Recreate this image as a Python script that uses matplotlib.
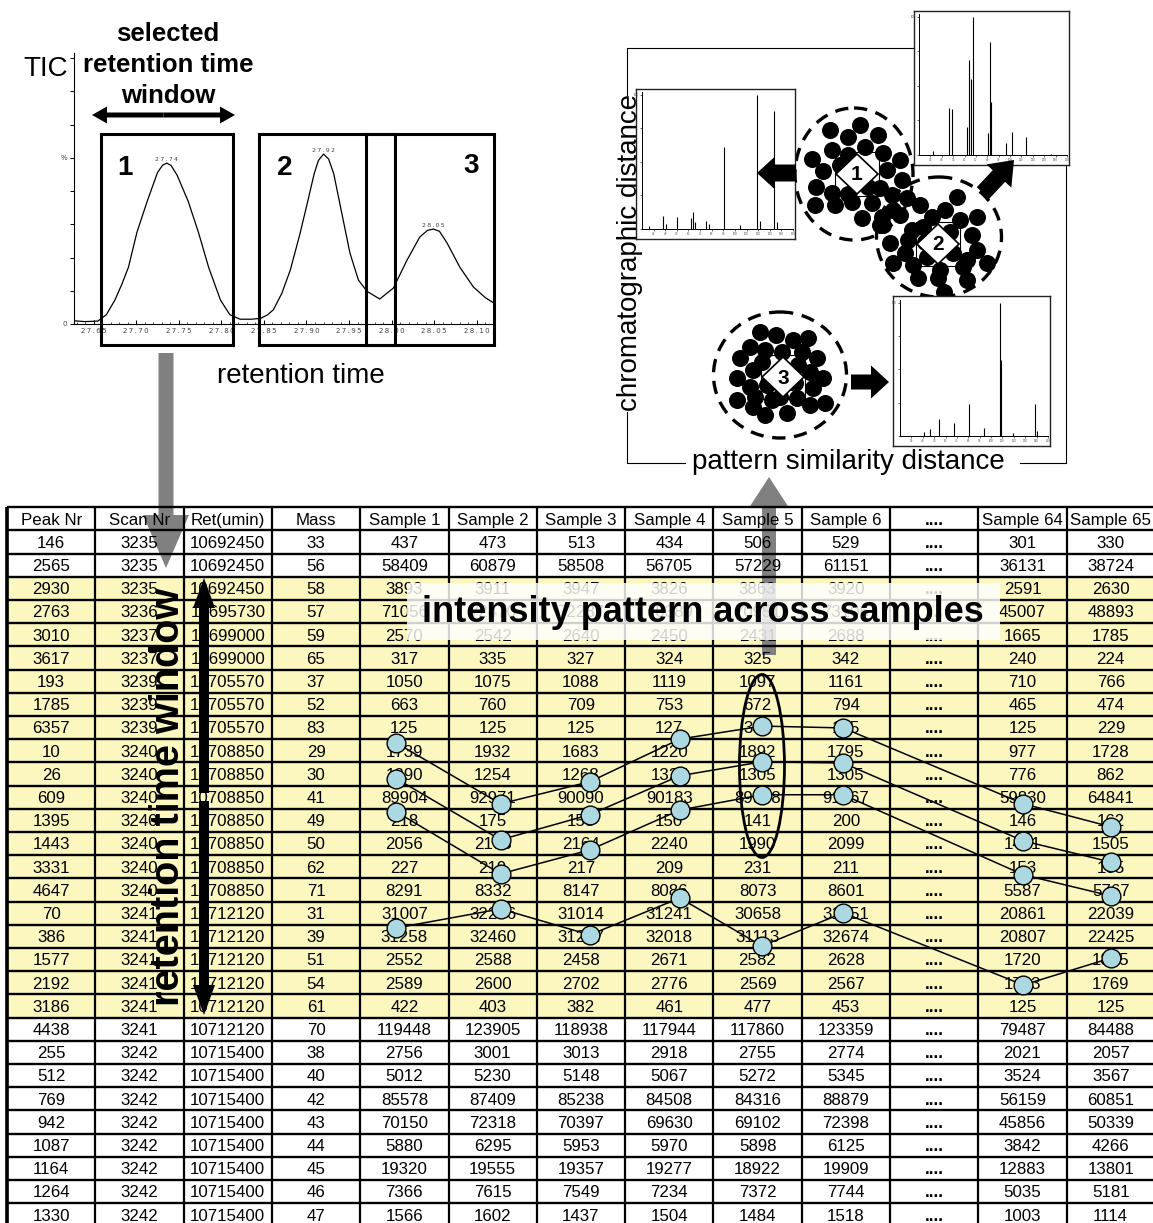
import matplotlib
matplotlib.use("Agg")
import matplotlib.pyplot as plt
from matplotlib.patches import Rectangle, Ellipse, FancyArrow, Polygon
from matplotlib.ticker import MultipleLocator

plt.rcParams['font.family'] = ['Liberation Sans', 'DejaVu Sans']

W, H = 1153, 1223

# ---------------- data ----------------
# chromatogram trace (retention time in min, TIC in % of axis)
rt = [27.627, 27.640, 27.655, 27.665, 27.675, 27.683, 27.691, 27.701, 27.713, 27.725,
      27.731, 27.736, 27.741, 27.748, 27.761, 27.773, 27.785, 27.799, 27.810, 27.822,
      27.835, 27.846, 27.854, 27.861, 27.871, 27.881, 27.892, 27.901, 27.909, 27.914,
      27.920, 27.926, 27.932, 27.939, 27.951, 27.961, 27.971, 27.986, 28.002, 28.018,
      28.033, 28.042, 28.049, 28.056, 28.065, 28.080, 28.096, 28.110, 28.120]
tic = [1.2, 0.9, 1.1, 3.5, 9.0, 14.8, 21.4, 34.6, 46.2, 56.9,
       59.7, 60.5, 59.6, 56.0, 46.2, 34.6, 21.4, 9.0, 3.5, 1.8,
       1.8, 2.1, 3.4, 5.3, 11.5, 20.3, 33.5, 45.5, 56.5, 61.5,
       63.9, 62.0, 56.5, 45.5, 26.7, 16.5, 12.3, 9.4, 13.5, 24.0,
       32.7, 35.2, 35.7, 34.9, 30.5, 21.4, 13.9, 9.9, 7.9]
peak_rt = [27.736, 27.920, 28.049]
peak_h = [60.5, 63.9, 35.7]
peak_lbl = ["27.74", "27.92", "28.05"]
windows = [(27.659, 27.814), (27.844, 28.004), (27.970, 28.120)]
window_names = ["1", "2", "3"]
rt_ticks = [27.65, 27.70, 27.75, 27.80, 27.85, 27.90, 27.95, 28.00, 28.05, 28.10]

# mass spectra of the three clusters
spec_left_mz = [26, 38, 41, 50, 62, 64, 66, 75, 78, 91, 104, 119, 122, 134, 136]
spec_left_int = [2, 10, 4, 9, 8, 13, 5, 6, 4, 61, 3, 100, 6, 88, 5]
spec_top_mz = [32, 46, 49, 62, 64, 66, 67, 81, 82, 83, 96, 102, 114, 136]
spec_top_int = [3, 34, 33, 20, 69, 55, 100, 16, 82, 38, 9, 17, 13, 1]
spec_bot_mz = [41, 46, 54, 67, 81, 94, 108, 109, 119, 139, 140]
spec_bot_int = [3, 5, 13, 10, 24, 6, 100, 57, 2, 24, 4]

# cluster members (pattern similarity vs chromatographic distance, drawing units)
dots1_x = [830, 848, 878, 832, 865, 883, 812, 848, 900, 823, 840, 887, 816, 832, 848,
           868, 880, 902, 835, 852, 872, 862, 892, 893, 882, 880, 860, 815]
dots1_y = [130, 137, 135, 150, 147, 153, 159, 155, 160, 171, 165, 170, 187, 193, 194,
           187, 188, 180, 205, 202, 203, 218, 195, 210, 217, 225, 125, 205]
dots2_x = [907, 920, 957, 945, 900, 932, 960, 977, 912, 923, 908, 972, 890, 977, 905,
           927, 953, 893, 913, 940, 967, 987, 918, 938, 967, 944, 883, 963, 950, 925]
dots2_y = [198, 205, 197, 210, 215, 217, 220, 217, 230, 227, 240, 235, 243, 250, 253,
           257, 253, 263, 265, 270, 260, 263, 278, 278, 280, 292, 225, 267, 232, 242]
dots3_x = [760, 776, 750, 793, 808, 765, 782, 802, 740, 762, 817, 753, 798, 810, 737,
           823, 750, 767, 795, 813, 737, 755, 772, 797, 810, 825, 753, 765, 787, 780]
dots3_y = [332, 335, 347, 340, 338, 350, 352, 352, 358, 362, 358, 370, 365, 372, 378,
           378, 387, 385, 383, 388, 400, 397, 400, 398, 405, 403, 407, 415, 413, 397]
cluster_center = [(854, 174), (939, 237), (780, 375)]
cluster_size = [(118, 132), (125, 120), (133, 126)]
centroid = [(857, 174), (938, 244), (783, 377)]

# table
headers = ["Peak Nr", "Scan Nr", "Ret(umin)", "Mass", "Sample 1", "Sample 2", "Sample 3",
           "Sample 4", "Sample 5", "Sample 6", "....", "Sample 64", "Sample 65"]
peak_nr = [146, 2565, 2930, 2763, 3010, 3617, 193, 1785, 6357, 10, 26, 609, 1395, 1443, 3331,
           4647, 70, 386, 1577, 2192, 3186, 4438, 255, 512, 769, 942, 1087, 1164, 1264, 1330]
scan_nr = [3235, 3235, 3235, 3236, 3237, 3237, 3239, 3239, 3239, 3240, 3240, 3240, 3240, 3240, 3240,
           3240, 3241, 3241, 3241, 3241, 3241, 3241, 3242, 3242, 3242, 3242, 3242, 3242, 3242, 3242]
ret_umin = [10692450, 10692450, 10692450, 10695730, 10699000, 10699000, 10705570, 10705570,
            10705570, 10708850, 10708850, 10708850, 10708850, 10708850, 10708850, 10708850,
            10712120, 10712120, 10712120, 10712120, 10712120, 10712120, 10715400, 10715400,
            10715400, 10715400, 10715400, 10715400, 10715400, 10715400]
mass = [33, 56, 58, 57, 59, 65, 37, 52, 83, 29, 30, 41, 49, 50, 62, 71, 31, 39, 51, 54, 61, 70,
        38, 40, 42, 43, 44, 45, 46, 47]
sample1 = [437, 58409, 3893, 71056, 2570, 317, 1050, 663, 125, 1739, 1290, 89904, 218, 2056, 227,
           8291, 31007, 31258, 2552, 2589, 422, 119448, 2756, 5012, 85578, 70150, 5880, 19320, 7366, 1566]
sample2 = [473, 60879, 3911, 72470, 2542, 335, 1075, 760, 125, 1932, 1254, 92971, 175, 2103, 219,
           8332, 32206, 32460, 2588, 2600, 403, 123905, 3001, 5230, 87409, 72318, 6295, 19555, 7615, 1602]
sample3 = [513, 58508, 3947, 72287, 2640, 327, 1088, 709, 125, 1683, 1268, 90090, 153, 2164, 217,
           8147, 31014, 31207, 2458, 2702, 382, 118938, 3013, 5148, 85238, 70397, 5953, 19357, 7549, 1437]
sample4 = [434, 56705, 3826, 70389, 2450, 324, 1119, 753, 127, 1220, 1327, 90183, 150, 2240, 209,
           8086, 31241, 32018, 2671, 2776, 461, 117944, 2918, 5067, 84508, 69630, 5970, 19277, 7234, 1504]
sample5 = [506, 57229, 3863, 70951, 2431, 325, 1097, 672, 302, 1892, 1305, 89908, 141, 1990, 231,
           8073, 30658, 31113, 2582, 2569, 477, 117860, 2755, 5272, 84316, 69102, 5898, 18922, 7372, 1484]
sample6 = [529, 61151, 3920, 73106, 2688, 342, 1161, 794, 125, 1795, 1305, 91067, 200, 2099, 211,
           8601, 31951, 32674, 2628, 2567, 453, 123359, 2774, 5345, 88879, 72398, 6125, 19909, 7744, 1518]
sample64 = [301, 36131, 2591, 45007, 1665, 240, 710, 465, 125, 977, 776, 59830, 146, 1441, 153,
            5587, 20861, 20807, 1720, 1703, 125, 79487, 2021, 3524, 56159, 45856, 3842, 12883, 5035, 1003]
sample65 = [330, 38724, 2630, 48893, 1785, 224, 766, 474, 229, 1728, 862, 64841, 162, 1505, 165,
            5767, 22039, 22425, 1835, 1769, 125, 84488, 2057, 3567, 60851, 50339, 4266, 13801, 5181, 1114]
window_rows = list(range(2, 21))   # rows inside the selected retention time window

# highlighted intensity patterns (table column / row units)
pattern_cols = [4.41, 5.59, 6.60, 7.62, 8.55, 9.47, 11.51, 12.50]
pattern_a = [10.16, 12.78, 11.83, 9.99, 9.43, 9.51, 12.78, 13.77]
pattern_b = [11.70, 14.33, 13.25, 11.57, 10.97, 11.02, 14.38, 15.29]
pattern_c = [13.13, 15.80, 14.77, 13.05, 12.39, 12.39, 15.84, 16.75]
pattern_d = [18.13, 17.31, 18.43, 16.84, 18.91, 17.48, 20.59, 19.43]

YELLOW = '#fbf7bf'
BLUE = '#acd9e1'
GREY = '#808080'

# ---------------- figure ----------------
fig = plt.figure(figsize=(W / 100, H / 100), dpi=100)


def frac(x0, y0, x1, y1):
    return [x0 / W, 1 - y1 / H, (x1 - x0) / W, (y1 - y0) / H]


def overlay(z):
    a = fig.add_axes([0, 0, 1, 1], zorder=z)
    a.set_xlim(0, W)
    a.set_ylim(H, 0)
    a.set_axis_off()
    return a


ov = overlay(5)
ovt = overlay(8)

# ---------------- table ----------------
NC, NR = 13, 31
tb = fig.add_axes(frac(7, 507.3, 7 + NC * 88.3, 507.3 + NR * 23.2), zorder=0)
tb.set_xlim(0, NC)
tb.set_ylim(NR, 0)
tb.set_axis_off()

for r in window_rows:
    tb.add_patch(Rectangle((0, r + 1), NC, 1, fc=YELLOW, ec='none', zorder=1))

tb.hlines(range(NR + 1), 0, NC, color='black', lw=1.7, zorder=2.5, clip_on=False)
tb.vlines(range(NC + 1), 0, NR, color='black', lw=1.6, zorder=2.5, clip_on=False)
tb.vlines([0], 0, NR, color='black', lw=2.6, zorder=2.5, clip_on=False)

columns = [peak_nr, scan_nr, ret_umin, mass, sample1, sample2, sample3, sample4,
           sample5, sample6, None, sample64, sample65]
for c, name in enumerate(headers):
    tb.text(c + 0.5, 0.55, name, ha='center', va='center', fontsize=12.2, zorder=3,
            fontweight='bold' if name == '....' else 'normal')
    for r in range(len(peak_nr)):
        s = '....' if columns[c] is None else str(columns[c][r])
        tb.text(c + 0.5, r + 1.55, s, ha='center', va='center', fontsize=12.2, zorder=3,
                fontweight='bold' if columns[c] is None else 'normal')

# grey arrows (chromatogram -> table, table -> clustering)
for (x, y0, y1, w, hw, hl) in [(166, 353, 568, 15, 46, 53), (769, 655, 477, 14, 39, 30)]:
    arr = FancyArrow(x, y0, 0, y1 - y0, width=w, head_width=hw, head_length=hl,
                     length_includes_head=True, fc=GREY, ec='none',
                     transform=ov.transData, zorder=1.5, clip_on=False)
    tb.add_artist(arr)

for rows in [pattern_a, pattern_b, pattern_c, pattern_d]:
    tb.plot(pattern_cols, rows, '-', color='black', lw=1.1, zorder=6)
for rows in [pattern_a, pattern_b, pattern_c, pattern_d]:
    tb.plot(pattern_cols, rows, 'o', ms=13.5, mfc=BLUE, mec='black', mew=1.0, zorder=7)
tb.add_patch(Ellipse((8.55, 11.15), 0.51, 7.89, fill=False, ec='black', lw=2.0, zorder=8))

# ---------------- chromatogram ----------------
cax = fig.add_axes(frac(74, 53, 493, 324), zorder=1)
cax.patch.set_alpha(0)
cax.plot(rt, tic, color='black', lw=0.9)
cax.set_xlim(27.627, 28.119)
cax.set_ylim(0, 101.9)
for s in ['top', 'right']:
    cax.spines[s].set_visible(False)
for s in ['left', 'bottom']:
    cax.spines[s].set_linewidth(0.8)
cax.set_xticks(rt_ticks)
cax.set_xticklabels(['\u2009'.join(f"{t:.2f}") for t in rt_ticks], fontfamily='DejaVu Sans',
                    fontsize=5, color='#444')
cax.xaxis.set_minor_locator(MultipleLocator(0.01))
yt = [i * 12.5 for i in range(9)]
cax.set_yticks(yt)
cax.set_yticklabels(['0', '', '', '', '', '%', '', '', ''], fontfamily='DejaVu Sans',
                    fontsize=5, color='#444')
cax.tick_params(axis='x', which='major', direction='in', length=3, width=0.7, pad=3)
cax.tick_params(axis='x', which='minor', direction='in', length=1.5, width=0.5)
cax.tick_params(axis='y', direction='out', length=3, width=0.7, pad=2)
for prt, ph, lbl in zip(peak_rt, peak_h, peak_lbl):
    cax.text(prt, ph + 0.5, '\u2009'.join(lbl), ha='center', va='bottom', fontsize=4.5,
             fontfamily='DejaVu Sans', color='#444')
for t0, t1 in windows:
    cax.add_patch(Rectangle((t0, -7.9), t1 - t0, 79.3, fill=False, ec='black', lw=2.2,
                            clip_on=False, zorder=4))

ov.text(46, 69, 'TIC', fontsize=20, ha='center', va='center')
ov.text(168, 65, 'selected\nretention time\nwindow', fontsize=18.5, fontweight='bold',
        ha='center', va='center', linespacing=1.38)
for dx in (-71.5, 71.5):
    ov.add_patch(FancyArrow(163.5, 115, dx, 0, width=5, head_width=17, head_length=15,
                            length_includes_head=True, fc='black', ec='none'))
for (x, y), name in zip([(125, 168), (285, 168), (471, 166)], window_names):
    ov.text(x, y, name, fontsize=20, fontweight='bold', ha='center', va='center')
ov.text(301, 376, 'retention time', fontsize=20, ha='center', va='center')

# ---------------- table annotations ----------------
ov.text(168, 797, 'retention time window', rotation=90, fontsize=28.5, fontweight='bold',
        ha='center', va='center')
ov.add_patch(FancyArrow(204, 793, 0, -215, width=10, head_width=22, head_length=30,
                        length_includes_head=True, fc='black', ec='none'))
ov.add_patch(FancyArrow(204, 801, 0, 214, width=10, head_width=22, head_length=30,
                        length_includes_head=True, fc='black', ec='none'))
ov.add_patch(Rectangle((407, 583), 593, 57, fc='white', ec='none', alpha=0.82, zorder=3))
ov.text(703, 612, 'intensity pattern across samples', fontsize=26, fontweight='bold',
        ha='center', va='center', zorder=4)

# ---------------- clustering panel ----------------
ov.plot([627, 627, 914], [95, 48, 48], color='black', lw=0.8)
ov.plot([627, 627, 685], [412, 463, 463], color='black', lw=0.8)
ov.plot([1020, 1066, 1066], [463, 463, 165], color='black', lw=0.8)
ov.text(630, 252, 'chromatographic distance', rotation=90, fontsize=20, ha='center', va='center')
ov.text(848, 462, 'pattern similarity distance', fontsize=20, ha='center', va='center')

for (cx, cy), (w, h) in zip(cluster_center, cluster_size):
    ov.add_patch(Ellipse((cx, cy), w, h, fill=False, ec='black', lw=2.4, ls=(0, (4, 2.6)),
                         zorder=2))
for (dx, dy) in centroid:
    ov.add_patch(Rectangle((dx - 22, dy - 22), 44, 44, fc='white', ec='black', lw=0.8, zorder=3))
ov.scatter(dots1_x + dots2_x + dots3_x, dots1_y + dots2_y + dots3_y, s=150, c='black',
           linewidths=0, zorder=4)
for i, (dx, dy) in enumerate(centroid):
    ov.add_patch(Polygon([(dx - 21, dy), (dx, dy - 20), (dx + 21, dy), (dx, dy + 20)],
                         closed=True, fc='white', ec='black', lw=1.2, zorder=5))
    ov.text(dx, dy + 1, str(i + 1), fontsize=15, fontweight='bold', ha='center', va='center',
            zorder=6)


def spectrum(box, inner, mz, inten):
    bax = fig.add_axes(frac(*box), zorder=6)
    bax.set_xticks([])
    bax.set_yticks([])
    for s in bax.spines.values():
        s.set_linewidth(1.0)
        s.set_color('#222')
    sax = fig.add_axes(frac(*inner), zorder=7)
    sax.patch.set_alpha(0)
    sax.vlines(mz, 0, inten, color='black', lw=0.8)
    sax.set_xlim(20, 150)
    sax.set_ylim(0, 102)
    for s in ['top', 'right']:
        sax.spines[s].set_visible(False)
    for s in ['left', 'bottom']:
        sax.spines[s].set_linewidth(0.7)
    sax.set_xticks(range(30, 151, 10))
    sax.set_xticklabels([str(v) for v in range(30, 151, 10)], fontsize=2.2, color='#555')
    sax.xaxis.set_minor_locator(MultipleLocator(2))
    sax.set_yticks([0, 25, 50, 75, 100])
    sax.set_yticklabels(['', '', '', '', '100'], fontsize=2.2, color='#555')
    sax.tick_params(length=1.5, width=0.4, pad=0.8)
    sax.tick_params(which='minor', length=1, width=0.3)


spectrum((636, 89, 795, 239), (642, 92, 793, 229), spec_left_mz, spec_left_int)
spectrum((914, 11, 1069, 165), (919, 14, 1067, 155), spec_top_mz, spec_top_int)
spectrum((893, 296, 1050, 446), (900, 300, 1048, 436), spec_bot_mz, spec_bot_int)

for (x, y, dx, dy, w, hw, hl) in [(796, 173, -39, 0, 17, 33, 18),
                                  (983, 193, 31, -33, 17, 34, 22),
                                  (851, 382, 38, 0, 15, 33, 18)]:
    ovt.add_patch(FancyArrow(x, y, dx, dy, width=w, head_width=hw, head_length=hl,
                             length_includes_head=True, fc='black', ec='none'))

fig.savefig('out.png', dpi=100)
